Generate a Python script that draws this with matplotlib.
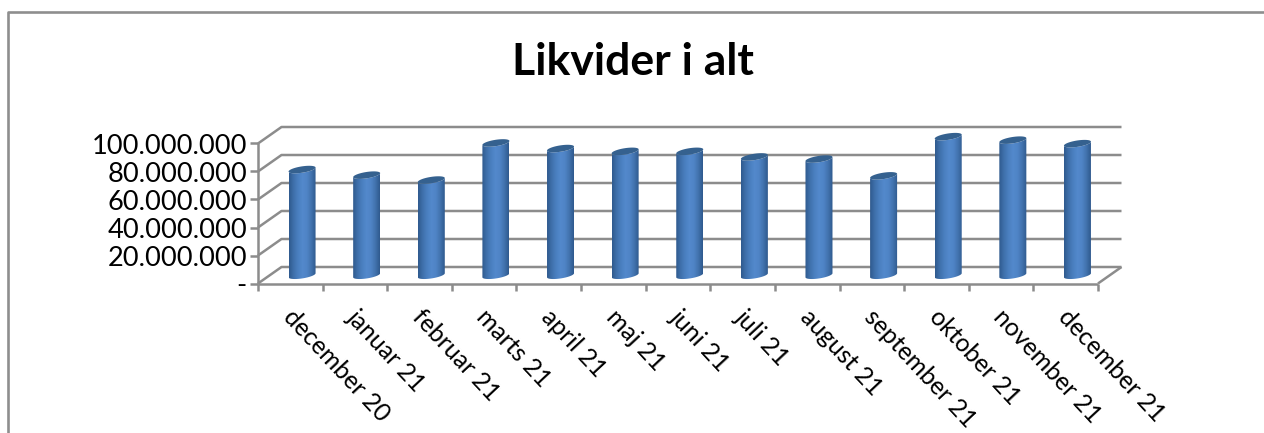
import numpy as np
import matplotlib
matplotlib.use("Agg")
import matplotlib.pyplot as plt
from matplotlib.colors import LinearSegmentedColormap
from matplotlib.lines import Line2D
from matplotlib.path import Path
from matplotlib.patches import PathPatch

months = ["december 20", "januar 21", "februar 21", "marts 21", "april 21", "maj 21", "juni 21",
          "juli 21", "august 21", "september 21", "oktober 21", "november 21", "december 21"]
values = [75.5e6, 71.5e6, 68e6, 94.5e6, 90.5e6, 88.5e6, 88.5e6, 84.5e6, 83e6, 71e6, 99e6, 96.5e6, 94e6]
ticks = [0, 20e6, 40e6, 60e6, 80e6, 100e6]
tick_labels = ["-", "20.000.000", "40.000.000", "60.000.000", "80.000.000", "100.000.000"]
title = "Likvider i alt"

W, H = 1264, 433
FONT = "Lato"
GRID = "#8c8c8c"
fig = plt.figure(figsize=(W / 100, H / 100), dpi=100)
fig.add_artist(Line2D([8 / W, 8 / W, 1], [0, 1 - 11.5 / H, 1 - 11.5 / H], color="#8e8e8e", lw=1.9))

# front plane of the pseudo-3D axis box
x0, x1, y_base, y_top = 258, 1098, 283.5, 143.5
ax = fig.add_axes([x0 / W, 1 - y_base / H, (x1 - x0) / W, (y_base - y_top) / H])
ax.axis("off")

pxx = len(months) / (x1 - x0)       # data units per pixel
pxy = 100e6 / (y_base - y_top)
dx, dy = 23.5 * pxx, 16.5 * pxy     # depth of the box


def L(xs, ys, **kw):
    ax.add_line(Line2D(xs, ys, color=GRID, lw=1.8, clip_on=False, solid_capstyle="butt", **kw))


n = len(months)
for t, label in zip(ticks, tick_labels):
    L([0, dx, n + dx], [t, t + dy, t + dy], zorder=1)
    L([-8 * pxx, 0], [t, t], zorder=1)
    ax.text(-11 * pxx, t - 2.5 * pxy, label, ha="right", va="center", fontsize=19.6,
            family=FONT, color="black", clip_on=False)
L([0, 0], [0, 100e6], zorder=1)
L([0, n], [0, 0], zorder=1)
L([n, n + dx], [0, dy], zorder=1)
for i in range(n + 1):
    L([i, i], [0, -7 * pxy], zorder=1)

cmap = LinearSegmentedColormap.from_list("cyl", ["#2f5a8e", "#3f70ab", "#4a7fbf", "#5389cc", "#4f84c6", "#4273ae", "#2f5a8e"])
grad = np.linspace(0, 1, 64).reshape(1, -1)
hw = 13.5 * pxx
hh = 3.2 * pxy
tilt = 2.0 * pxy
th = np.linspace(0, np.pi, 40)
by = 0.5 * dy

for i, v in enumerate(values):
    cx = i + 0.5 + 0.5 * dx
    top = v + by
    ts = np.cos(th)
    bx = cx + hw * ts
    bys = by - hh * np.sin(th) + tilt * ts
    tx = cx - hw * ts
    tys = top - hh * np.sin(th) - tilt * ts
    uy = top + hh * np.sin(th) + tilt * ts
    body = np.column_stack([np.r_[bx, tx], np.r_[bys, tys]])
    p = PathPatch(Path(np.vstack([body, body[0]])), transform=ax.transData, fc="none", ec="none", clip_on=False)
    ax.add_patch(p)
    im = ax.imshow(grad, extent=[cx - hw, cx + hw, -5e6, 115e6], aspect="auto", cmap=cmap, zorder=3)
    im.set_clip_box(fig.bbox)
    im.set_clip_path(p)
    cap = np.column_stack([np.r_[cx + hw * ts, cx - hw * ts], np.r_[uy, tys]])
    ax.add_patch(PathPatch(Path(np.vstack([cap, cap[0]])), fc="#35618f", ec="none", zorder=4, clip_on=False))
    ax.text(i + 0.45, -29.5 * pxy, months[i], rotation=-47, rotation_mode="anchor", ha="left", va="center",
            fontsize=17.8, family=FONT, color="black", clip_on=False)
ax.set_xlim(0, n)
ax.set_ylim(0, 100e6)

fig.text(632.5 / W, 1 - 62 / H, title, ha="center", va="center", fontsize=32, fontweight="bold", family=FONT)
fig.savefig("out.png", dpi=100, facecolor="white")
